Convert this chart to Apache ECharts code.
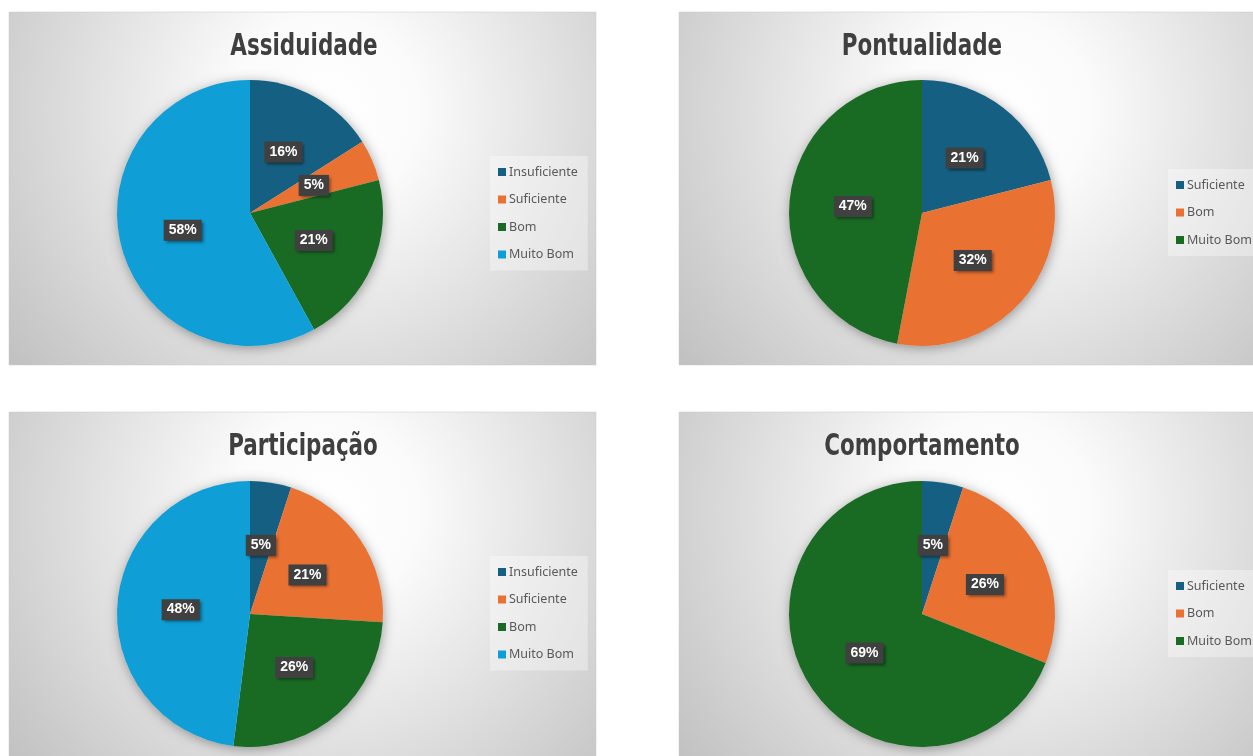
<!DOCTYPE html>
<html>
<head>
<meta charset="utf-8">
<style>
  html, body { margin: 0; padding: 0; background: #ffffff; }
  #chart { width: 1253px; height: 756px; }
</style>
<script src="https://cdn.jsdelivr.net/npm/echarts@6/dist/echarts.min.js"></script>
</head>
<body>
<div id="chart"></div>
<script>
// ---- data ----
const categories4 = ['Insuficiente', 'Suficiente', 'Bom', 'Muito Bom'];
const categories3 = ['Suficiente', 'Bom', 'Muito Bom'];
const assiduidade = [16, 5, 21, 58];
const pontualidade = [21, 32, 47];
const participacao = [5, 21, 26, 48];
const comportamento = [5, 26, 69];
const titles = ['Assiduidade', 'Pontualidade', 'Participação', 'Comportamento'];
const palette = ['#156082', '#E97132', '#196B24', '#0F9ED5'];

// ---- layout (pixels) ----
const panels = [
  { x: 9,   y: 12,  w: 587, h: 353, pie: [250, 213], titleX: 304, legendX: 490, legendY: 156, cats: categories4, vals: assiduidade },
  { x: 679, y: 12,  w: 600, h: 353, pie: [922, 213], titleX: 922, legendX: 1168, legendY: 169, cats: categories3, vals: pontualidade },
  { x: 9,   y: 412, w: 587, h: 353, pie: [250, 614], titleX: 303, legendX: 490, legendY: 556, cats: categories4, vals: participacao },
  { x: 679, y: 412, w: 600, h: 353, pie: [922, 614], titleX: 922, legendX: 1168, legendY: 570, cats: categories3, vals: comportamento }
];
const R = 133;

const chart = echarts.init(document.getElementById('chart'));

const graphic = [];
const legend = [];
const series = [];

panels.forEach((p, i) => {
  graphic.push({
    type: 'rect', z: -10, silent: true,
    shape: { x: p.x, y: p.y, width: p.w, height: p.h },
    style: {
      fill: {
        type: 'radial', x: (p.pie[0] + 75 - p.x) / p.w, y: 0.28, r: 1.2,
        colorStops: [
          { offset: 0, color: '#ffffff' },
          { offset: 0.22, color: '#fbfbfb' },
          { offset: 1, color: '#bdbdbd' }
        ]
      },
      stroke: '#c8c8c8', lineWidth: 0.5
    }
  });
  // chart title (condensed bold, like the original narrow font)
  graphic.push({
    type: 'text', z: 10, silent: true,
    x: p.titleX, y: p.y + 19,
    scaleX: 0.77, scaleY: 1,
    style: {
      text: titles[i],
      font: "bold 31px 'DejaVu Sans Condensed', 'DejaVu Sans', sans-serif",
      fill: '#3f3f3f',
      textAlign: 'center', textVerticalAlign: 'top'
    }
  });
  legend.push({
    orient: 'vertical',
    left: p.legendX, top: p.legendY,
    padding: [8, 10, 8, 8],
    backgroundColor: 'rgba(255,255,255,0.35)',
    itemWidth: 8, itemHeight: 8, itemGap: 11.5,
    icon: 'rect', selectedMode: false,
    textStyle: { fontFamily: "'Noto Sans', sans-serif", fontSize: 12.5, color: '#595959', lineHeight: 16, padding: [0, 0, 0, -2] },
    data: p.cats.map((c, k) => ({ name: c, itemStyle: { color: palette[k] } }))
  });
  // soft shadow under the pie
  series.push({
    type: 'pie', silent: true, z: 1,
    center: p.pie, radius: R,
    startAngle: 90,
    label: { show: false }, labelLine: { show: false },
    emphasis: { disabled: true }, tooltip: { show: false },
    itemStyle: { color: '#dddddd', shadowBlur: 12, shadowColor: 'rgba(0,0,0,0.35)', shadowOffsetX: 1, shadowOffsetY: 2 },
    data: [{ value: 1, name: '__shadow' + i }]
  });
  series.push({
    type: 'pie', name: titles[i], z: 2,
    center: p.pie, radius: R,
    startAngle: 90, clockwise: true,
    avoidLabelOverlap: false,
    animation: false,
    label: {
      show: true, position: 'inside',
      formatter: (q) => q.value + '%',
      fontFamily: "'Liberation Sans', Arial, sans-serif",
      fontWeight: 'bold', fontSize: 14, color: '#ffffff',
      backgroundColor: '#404040',
      padding: [4, 5, 3, 5],
      shadowColor: 'rgba(0,0,0,0.45)', shadowBlur: 3, shadowOffsetX: 2, shadowOffsetY: 2
    },
    labelLine: { show: false },
    itemStyle: { borderWidth: 0 },
    data: p.vals.map((v, k) => ({ name: p.cats[k], value: v, itemStyle: { color: palette[k] } }))
  });
});

chart.setOption({
  animation: false,
  graphic: graphic,
  legend: legend,
  series: series
});
</script>
</body>
</html>
